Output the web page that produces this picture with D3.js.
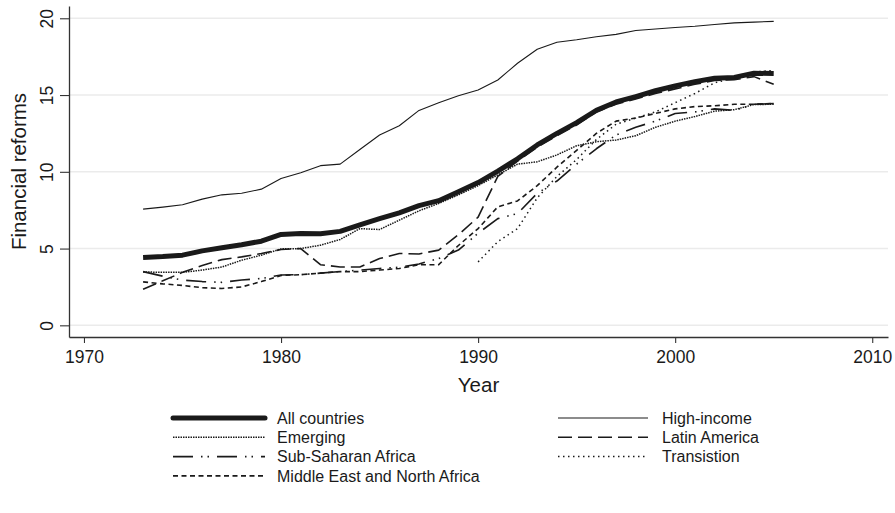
<!DOCTYPE html>
<html>
<head>
<meta charset="utf-8">
<script src="https://cdn.jsdelivr.net/npm/d3@7"></script>
<style>
  body { margin: 0; background: #fff; }
  svg { display: block; font-family: "Liberation Sans", Arial, Helvetica, sans-serif; }
</style>
</head>
<body>
<div id="main-vis"></div>
<script>
// years 1973-2005
const years = [1973, 1974, 1975, 1976, 1977, 1978, 1979, 1980, 1981, 1982, 1983,
  1984, 1985, 1986, 1987, 1988, 1989, 1990, 1991, 1992, 1993, 1994, 1995, 1996,
  1997, 1998, 1999, 2000, 2001, 2002, 2003, 2004, 2005]

const allCountries = [4.42, 4.48, 4.57, 4.85, 5.05, 5.25, 5.48,
  5.92, 5.98, 5.97, 6.12, 6.55, 6.95, 7.33, 7.8, 8.12, 8.7,
  9.3, 10.05, 10.85, 11.75, 12.5, 13.2, 14.0, 14.55, 14.9, 15.28,
  15.6, 15.87, 16.1, 16.15, 16.42, 16.4]

const highIncome = [7.57, 7.7, 7.85, 8.22, 8.5, 8.6, 8.87,
  9.57, 9.94, 10.4, 10.5, 11.45, 12.4, 13.0, 14.0, 14.5, 14.95,
  15.33, 15.98, 17.07, 17.98, 18.44, 18.6, 18.8, 18.95, 19.2, 19.3,
  19.4, 19.48, 19.6, 19.7, 19.75, 19.8]

const emerging = [3.48, 3.45, 3.45, 3.6, 3.8, 4.24, 4.57,
  4.98, 5.0, 5.22, 5.59, 6.3, 6.24, 6.85, 7.46, 7.94, 8.5,
  9.1, 9.8, 10.5, 10.65, 11.1, 11.7, 11.96, 12.07, 12.35, 12.9,
  13.3, 13.6, 13.95, 14.05, 14.38, 14.4]

const latinAmerica = [2.35, 2.9, 3.45, 3.9, 4.28, 4.46, 4.68,
  4.94, 5.0, 3.95, 3.8, 3.8, 4.35, 4.68, 4.65, 4.9, 5.9,
  7.05, 9.7, 10.7, 11.6, 12.35, 13.05, 13.9, 14.4, 14.75, 15.1,
  15.4, 15.7, 15.95, 16.0, 16.2, 15.7]

const subSaharan = [3.5, 3.2, 2.95, 2.85, 2.8, 2.95, 3.05,
  3.28, 3.3, 3.4, 3.5, 3.6, 3.7, 3.78, 4.0, 4.35, 4.9,
  6.0, 6.95, 7.28, 8.6, 9.4, 10.5, 11.5, 12.4, 12.9, 13.3,
  13.8, 13.9, 14.1, 14.0, 14.4, 14.45]

const transition = [null, null, null, null, null, null, null,
  null, null, null, null, null, null, null, null, null, null,
  4.13, 5.45, 6.3, 8.3, 9.7, 10.8, 12.1, 13.1, 13.5, 13.9,
  14.5, 15.1, 15.8, 16.1, 16.5, 16.6]

const mena = [2.83, 2.7, 2.6, 2.45, 2.4, 2.5, 2.85,
  3.25, 3.3, 3.4, 3.5, 3.5, 3.6, 3.7, 3.95, 3.95, 5.2,
  6.3, 7.72, 8.1, 9.1, 10.3, 11.4, 12.5, 13.3, 13.5, 13.8,
  14.1, 14.25, 14.3, 14.4, 14.4, 14.45]

const xTicks = [1970, 1980, 1990, 2000, 2010]
const yTicks = [0, 5, 10, 15, 20]

// series in drawing order, with the look of each line
const series = [
  {name: 'All countries', values: allCountries, w: 5, dash: null, col: 0, row: 0},
  {name: 'High-income', values: highIncome, w: 1.1, dash: null, col: 1, row: 0},
  {name: 'Emerging', values: emerging, w: 1.5, dash: '1.5,1', col: 0, row: 1},
  {name: 'Latin America', values: latinAmerica, w: 1.6, dash: '14,6', col: 1, row: 1},
  {name: 'Sub-Saharan Africa', values: subSaharan, w: 1.6, dash: '20,8,1.5,5,1.5,8', col: 0, row: 2},
  {name: 'Transistion', values: transition, w: 1.5, dash: '1.5,3.5', col: 1, row: 2},
  {name: 'Middle East and North Africa', values: mena, w: 1.6, dash: '5,3.5', col: 0, row: 3}
]

const width = 895, height = 513
const margin = {top: 6, right: 7, bottom: 176, left: 69}
const ink = '#1a1a1a'

const svg = d3.create('svg')
  .attr('width', width)
  .attr('height', height)

const x = d3.scaleLinear()
  .domain([1969.24, 2010.8])
  .range([margin.left, width - margin.right])

const y = d3.scaleLinear()
  .domain([-0.76, 20.8])
  .range([height - margin.bottom, margin.top])

// grid lines
svg.append('g')
  .selectAll('line')
  .data(yTicks)
  .join('line')
  .attr('x1', margin.left)
  .attr('x2', width - margin.right)
  .attr('y1', d => y(d))
  .attr('y2', d => y(d))
  .attr('stroke', '#ebebeb')
  .attr('stroke-width', 1.5)

// axes
const yAxis = svg.append('g')
  .attr('transform', `translate(${margin.left},0)`)
  .call(d3.axisLeft(y).tickValues(yTicks).tickSize(9).tickSizeOuter(0))
yAxis.select('.domain').attr('stroke', '#333').attr('stroke-width', 1.3)
yAxis.selectAll('.tick line').attr('stroke', '#333').attr('stroke-width', 1.1)
yAxis.selectAll('.tick text')
  .attr('transform', 'rotate(-90)')
  .attr('x', 0)
  .attr('y', -16)
  .attr('dy', null)
  .attr('text-anchor', 'middle')
  .attr('fill', ink)
  .style('font-size', '17.5px')

const xAxis = svg.append('g')
  .attr('transform', `translate(0,${height - margin.bottom})`)
  .call(d3.axisBottom(x).tickValues(xTicks).tickFormat(d3.format('d')).tickSize(6).tickPadding(8).tickSizeOuter(0))
xAxis.select('.domain').attr('stroke', '#333').attr('stroke-width', 1.3)
xAxis.selectAll('.tick line').attr('stroke', '#333').attr('stroke-width', 1.1)
xAxis.selectAll('.tick text')
  .attr('fill', ink)
  .style('font-size', '17.5px')

// axis titles
svg.append('text')
  .attr('transform', `translate(26,${(margin.top + height - margin.bottom) / 2}) rotate(-90)`)
  .attr('text-anchor', 'middle')
  .attr('fill', ink)
  .style('font-size', '20.5px')
  .text('Financial reforms')

svg.append('text')
  .attr('x', (margin.left + width - margin.right) / 2)
  .attr('y', 392)
  .attr('text-anchor', 'middle')
  .attr('fill', ink)
  .style('font-size', '20.5px')
  .text('Year')

// lines
const line = d3.line()
  .defined(d => d[1] !== null)
  .x(d => x(d[0]))
  .y(d => y(d[1]))

svg.append('g')
  .selectAll('path')
  .data(series)
  .join('path')
  .attr('d', s => line(years.map((yr, i) => [yr, s.values[i]])))
  .attr('fill', 'none')
  .attr('stroke', ink)
  .attr('stroke-width', s => s.w)
  .attr('stroke-dasharray', s => s.dash)
  .attr('stroke-linejoin', 'round')

// legend
const colX = [{x1: 173, x2: 265, tx: 277}, {x1: 558, x2: 648, tx: 662}]
const rowY = r => 418 + r * 19.3

const legend = svg.append('g')
  .selectAll('g')
  .data(series)
  .join('g')

legend.append('line')
  .attr('x1', s => colX[s.col].x1)
  .attr('x2', s => colX[s.col].x2)
  .attr('y1', s => rowY(s.row))
  .attr('y2', s => rowY(s.row))
  .attr('stroke', ink)
  .attr('stroke-width', s => s.w)
  .attr('stroke-dasharray', s => s.dash)
  .attr('stroke-linecap', s => s.w > 3 ? 'round' : 'butt')

legend.append('text')
  .attr('x', s => colX[s.col].tx)
  .attr('y', s => rowY(s.row))
  .attr('dy', '0.35em')
  .attr('fill', ink)
  .style('font-size', '16px')
  .text(s => s.name)

document.querySelector('#main-vis').appendChild(svg.node())
</script>
</body>
</html>
